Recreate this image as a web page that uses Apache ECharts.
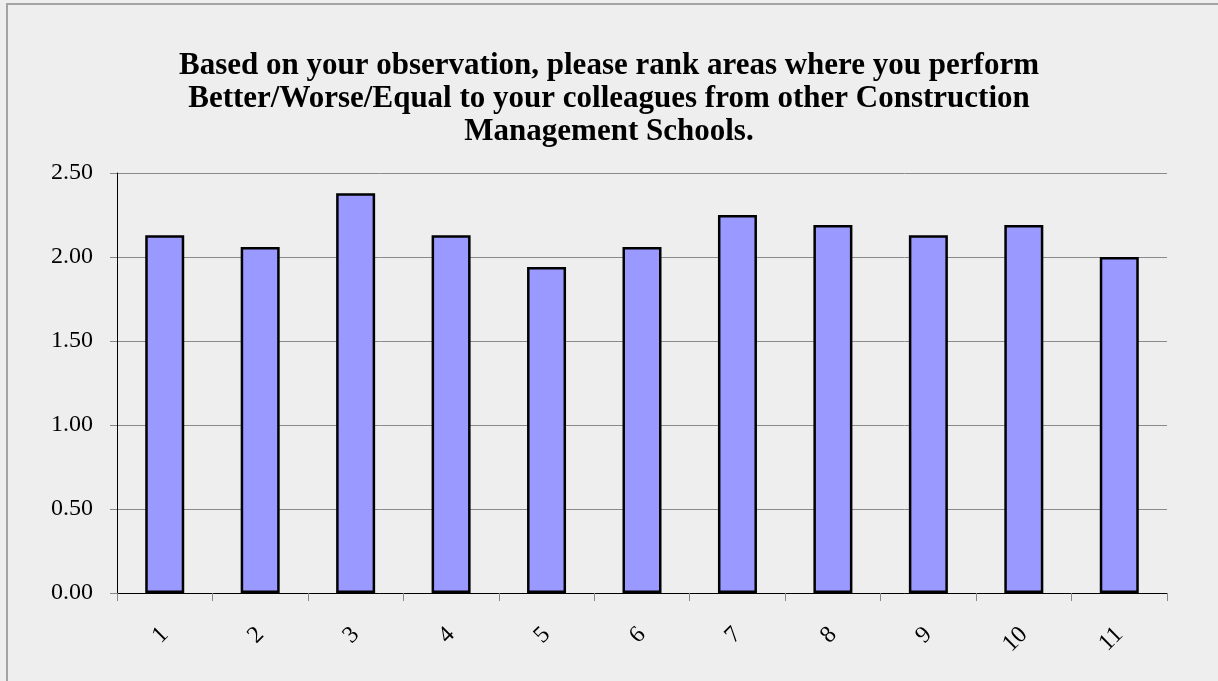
<!DOCTYPE html>
<html>
<head>
<meta charset="utf-8">
<script src="https://cdn.jsdelivr.net/npm/echarts@6/dist/echarts.min.js"></script>
<style>
  html, body { margin: 0; padding: 0; background: #eeeeee; }
  #chart { position: absolute; left: 0; top: 0; width: 1218px; height: 681px; }
  #frame {
    position: absolute; left: 6px; top: 3px; width: 1212px; height: 678px;
    border-left: 2px solid #a3a3a3; border-top: 2px solid #a3a3a3;
    box-sizing: border-box; pointer-events: none;
  }
</style>
</head>
<body>
<div id="chart"></div>
<div id="frame"></div>
<script>
const categories = ["1", "2", "3", "4", "5", "6", "7", "8", "9", "10", "11"];
const values = [2.13, 2.06, 2.38, 2.13, 1.94, 2.06, 2.25, 2.19, 2.13, 2.19, 2.00];
const titleText = "Based on your observation, please rank areas where you perform\nBetter/Worse/Equal to your colleagues from other Construction\nManagement Schools.";

const serif = '"Times New Roman", "Liberation Serif", serif';

const chart = echarts.init(document.getElementById("chart"));
chart.setOption({
  backgroundColor: "transparent",
  animation: false,
  title: {
    text: titleText,
    left: "center",
    top: 44,
    textStyle: {
      fontFamily: serif,
      fontWeight: "bold",
      fontSize: 31,
      lineHeight: 33,
      color: "#000"
    }
  },
  grid: { left: 117, right: 51, top: 173, bottom: 88 },
  xAxis: {
    type: "category",
    data: categories,
    axisLine: { lineStyle: { color: "#000", width: 1 } },
    axisTick: { show: true, length: 8, lineStyle: { color: "#888" } },
    axisLabel: {
      rotate: 45,
      margin: 38,
      fontFamily: serif,
      fontSize: 24,
      color: "#000"
    }
  },
  yAxis: {
    type: "value",
    min: 0,
    max: 2.5,
    interval: 0.5,
    axisLine: { show: true, lineStyle: { color: "#000", width: 1 } },
    axisTick: { show: true, length: 7, lineStyle: { color: "#888" } },
    axisLabel: {
      margin: 24,
      fontFamily: serif,
      fontSize: 24,
      color: "#000",
      formatter: v => v.toFixed(2)
    },
    splitLine: { lineStyle: { color: "#8a8a8a", width: 1 } }
  },
  series: [
    {
      type: "bar",
      data: values,
      barWidth: 39,
      itemStyle: {
        color: "#9999ff",
        borderColor: "#000",
        borderWidth: 2.5
      }
    }
  ]
});
</script>
</body>
</html>
